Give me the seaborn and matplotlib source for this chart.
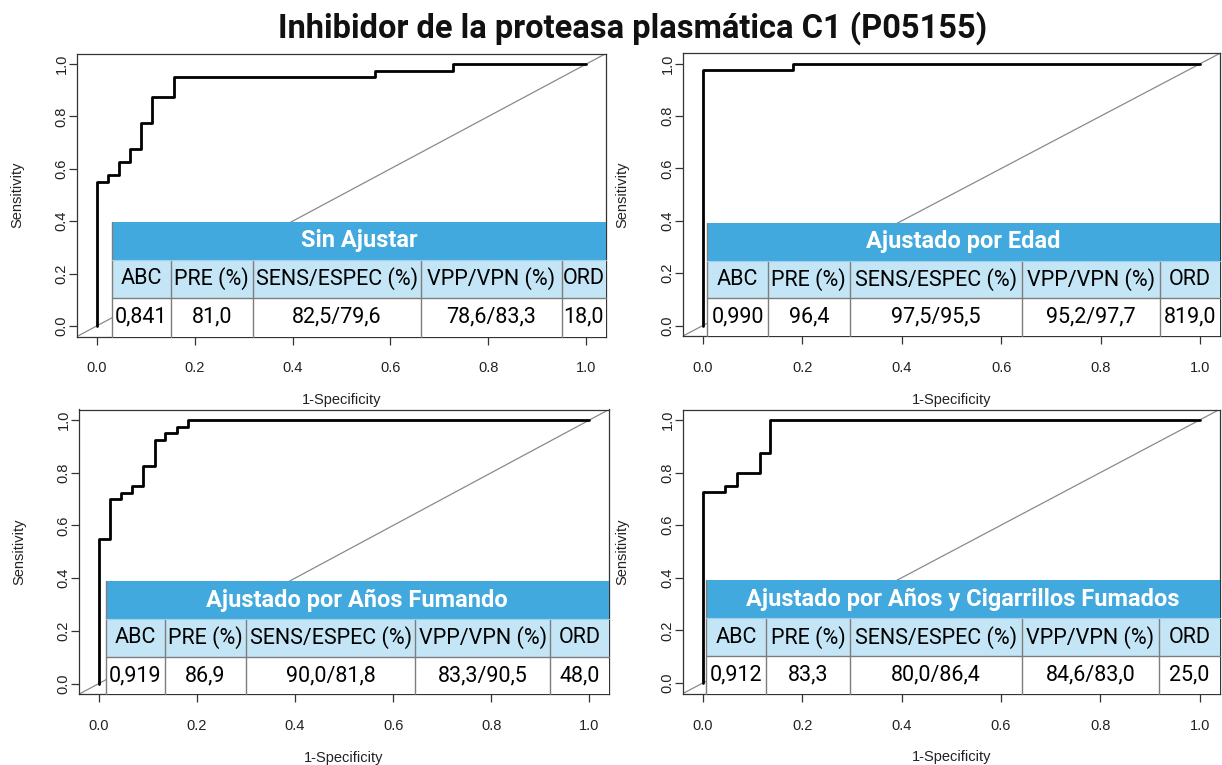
import matplotlib
matplotlib.use("Agg")
import matplotlib.pyplot as plt
import seaborn as sns
import pandas as pd
from matplotlib.patches import Rectangle

sns.set_theme(style="ticks")
plt.rcParams["font.family"] = ["Liberation Sans", "DejaVu Sans"]

TITLE = "Inhibidor de la proteasa plasmática C1 (P05155)"
panel_titles = [
    "Sin Ajustar",
    "Ajustado por Edad",
    "Ajustado por Años Fumando",
    "Ajustado por Años y Cigarrillos Fumados",
]

# ROC corner points: 1 - specificity and sensitivity for each model
fpr_sin = [0, 0, 0.023, 0.045, 0.068, 0.091, 0.114, 0.159, 0.568, 0.727, 1.0]
tpr_sin = [0, 0.55, 0.575, 0.625, 0.675, 0.775, 0.875, 0.95, 0.975, 1.0, 1.0]
fpr_edad = [0, 0, 0.182, 1.0]
tpr_edad = [0, 0.975, 1.0, 1.0]
fpr_anos = [0, 0, 0.023, 0.045, 0.068, 0.091, 0.114, 0.136, 0.159, 0.182, 1.0]
tpr_anos = [0, 0.55, 0.70, 0.725, 0.75, 0.825, 0.925, 0.95, 0.975, 1.0, 1.0]
fpr_cig = [0, 0, 0.045, 0.068, 0.114, 0.136, 1.0]
tpr_cig = [0, 0.725, 0.75, 0.80, 0.875, 1.0, 1.0]

# Summary table for each model
headers = ["ABC", "PRE (%)", "SENS/ESPEC (%)", "VPP/VPN (%)", "ORD"]
abc = ["0,841", "0,990", "0,919", "0,912"]
pre = ["81,0", "96,4", "86,9", "83,3"]
sens_espec = ["82,5/79,6", "97,5/95,5", "90,0/81,8", "80,0/86,4"]
vpp_vpn = ["78,6/83,3", "95,2/97,7", "83,3/90,5", "84,6/83,0"]
ord_vals = ["18,0", "819,0", "48,0", "25,0"]

tick_values = [0.0, 0.2, 0.4, 0.6, 0.8, 1.0]
tick_labels = ["0.0", "0.2", "0.4", "0.6", "0.8", "1.0"]

curves = [(fpr_sin, tpr_sin), (fpr_edad, tpr_edad), (fpr_anos, tpr_anos), (fpr_cig, tpr_cig)]

BAND = "#41A9DD"
LIGHT = "#C4E5F6"
GRID = "#7d7d7d"
TABLE_FONT = ["Roboto", "DejaVu Sans"]

W, H = 1222, 765
fig = plt.figure(figsize=(W / 100, H / 100), dpi=100)

# axes boxes in pixels: left, top, right, bottom
boxes = [(77, 53.5, 606, 336.5), (683, 53.3, 1220, 336), (79, 409.5, 609, 694.2), (683, 409.5, 1219.5, 693.5)]
# table column edges and row boundaries in axes fractions
table_cols = [
    [0.0656, 0.1771, 0.3321, 0.6497, 0.9163, 1.0],
    [0.0456, 0.1574, 0.3110, 0.6309, 0.8883, 1.0],
    [0.0504, 0.1615, 0.3158, 0.6347, 0.8894, 1.0],
    [0.0436, 0.1554, 0.3105, 0.6315, 0.8878, 1.0],
]
table_rows = [(0.4057, 0.2703, 0.1371), (0.4004, 0.2661, 0.1343), (0.3976, 0.2641, 0.1317), (0.3996, 0.2648, 0.1320)]


def draw_table(ax, title, cells, cols, rows):
    top, mid1, mid2 = rows
    x0, x1 = cols[0], cols[-1]
    tr = ax.transAxes
    kw = dict(transform=tr, clip_on=False, zorder=5, linewidth=0)
    ax.add_patch(Rectangle((x0, mid1), x1 - x0, top - mid1, facecolor=BAND, **kw))
    ax.add_patch(Rectangle((x0, mid2), x1 - x0, mid1 - mid2, facecolor=LIGHT, **kw))
    ax.add_patch(Rectangle((x0, 0), x1 - x0, mid2, facecolor="white", **kw))
    lkw = dict(transform=tr, color=GRID, linewidth=1.0, zorder=6, clip_on=False)
    ax.plot([x0, x0], [0, top], **lkw)
    for xc in cols[1:-1]:
        ax.plot([xc, xc], [0, mid1], **lkw)
    ax.plot([x0, x1], [mid2, mid2], **lkw)
    ax.plot([x0, x1], [mid1, mid1], transform=tr, color="#9fcfe9", linewidth=0.8, zorder=6, clip_on=False)
    ax.text((x0 + x1) / 2, (top + mid1) / 2, title, transform=tr, ha="center", va="center",
            color="white", fontsize=17, fontweight="bold", family=TABLE_FONT, zorder=7)
    for i in range(len(headers)):
        xm = (cols[i] + cols[i + 1]) / 2
        ax.text(xm, (mid1 + mid2) / 2, headers[i], transform=tr, ha="center", va="center",
                color="black", fontsize=15.5, family=TABLE_FONT, zorder=7)
        ax.text(xm, mid2 / 2, cells[i], transform=tr, ha="center", va="center",
                color="black", fontsize=15.5, family=TABLE_FONT, zorder=7)


for k in range(4):
    l, t, r, b = boxes[k]
    ax = fig.add_axes([l / W, 1 - b / H, (r - l) / W, (b - t) / H])
    ax.axline((0, 0), (1, 1), color="#8a8a8a", linewidth=0.9, zorder=1)
    df = pd.DataFrame({"fpr": curves[k][0], "tpr": curves[k][1]})
    sns.lineplot(data=df, x="fpr", y="tpr", ax=ax, sort=False, estimator=None,
                 color="black", linewidth=2.0, drawstyle="steps-post", zorder=2)
    ax.set_xlim(-0.04, 1.04)
    ax.set_ylim(-0.04, 1.04)
    ax.set_xticks(tick_values)
    ax.set_xticklabels(tick_labels)
    ax.set_yticks(tick_values)
    ax.set_yticklabels(tick_labels, rotation=90, va="center")
    ax.tick_params(axis="both", length=6, width=0.9, color="#333333", labelsize=10.5, labelcolor="#222222")
    ax.tick_params(axis="x", pad=12)
    ax.tick_params(axis="y", pad=0)
    for sp in ax.spines.values():
        sp.set_color("#333333")
        sp.set_linewidth(0.9)
    ax.set_xlabel("1-Specificity", fontsize=10.5, color="#222222")
    ax.set_ylabel("Sensitivity", fontsize=10.5, color="#222222")
    ax.xaxis.set_label_coords(0.5, -0.2)
    ax.yaxis.set_label_coords(-0.1, 0.5)
    cells = [abc[k], pre[k], sens_espec[k], vpp_vpn[k], ord_vals[k]]
    draw_table(ax, panel_titles[k], cells, table_cols[k], table_rows[k])

fig.text(0.518, 1 - 28 / H, TITLE, ha="center", va="center", fontsize=23.5, fontweight="bold",
         family=TABLE_FONT, color="#111111")

fig.savefig("out.png", dpi=100)
